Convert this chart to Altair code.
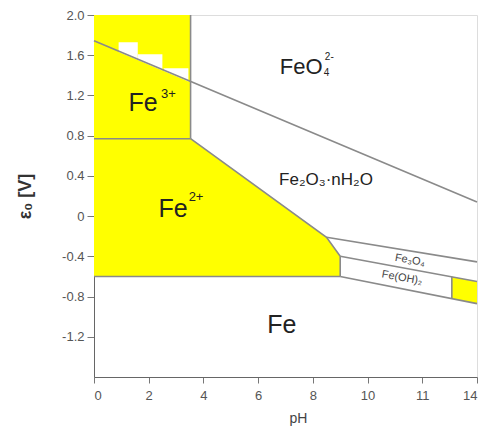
import altair as alt
import pandas as pd
import numpy as np

# ---------------- data ----------------
ph_ticks = [0, 2, 4, 6, 8, 10, 12, 14]
ph_tick_labels = ["0", "2", "4", "6", "8", "10", "11", "14"]
v_ticks = [-1.2, -0.8, -0.4, 0, 0.4, 0.8, 1.2, 1.6, 2.0]
v_tick_labels = ["-1.2", "-0.8", "-0.4", "0", "0.4", "0.8", "1.2", "1.6", "2.0"]

# boundary lines (segment id, pH, potential)
seg_ids = [1, 1, 2, 2, 3, 3, 4, 4, 4, 5, 5, 6, 6, 7, 7, 8, 8, 9, 9, 10, 10]
seg_ph = [0, 14, 3.53, 3.53, 0, 3.53, 3.53, 8.5, 9.0, 8.5, 14, 9.0, 14, 9.0, 9.0, 0, 9.0, 9.0, 14, 13.08, 13.08]
seg_v = [1.745, 0.14, 0.77, 2.0, 0.77, 0.77, 0.77, -0.21, -0.40, -0.21, -0.455, -0.40, -0.65, -0.40, -0.60,
         -0.60, -0.60, -0.60, -0.87, -0.604, -0.82]

# Fe3+ field
fe3_ph = [0, 3.53]
fe3_v = [0.77, 2.0]
# Fe2+ field
fe2_ph = [0, 3.53, 8.5, 9.0]
fe2_top = [0.77, 0.77, -0.21, -0.40]
fe2_bottom = [-0.60, -0.60, -0.60, -0.60]
# small yellow field at high pH
hfe_ph = [13.08, 14]
hfe_top = [-0.604, -0.65]
hfe_bottom = [-0.82, -0.87]

# white patches above the FeO4 line inside Fe3+ field
patch_id = [1, 1, 2, 2, 3, 3]
patch_ph = [0.9, 1.6, 1.6, 2.5, 2.55, 3.45]
patch_top = [1.73, 1.73, 1.61, 1.61, 1.47, 1.47]

# labels
big_text = ["Fe", "Fe", "Fe"]
big_ph = [1.79, 2.89, 6.87]
big_v = [1.125, 0.07, -1.08]
sup_text = ["3+", "2+"]
sup_ph = [2.72, 3.73]
sup_v = [1.21, 0.19]

# ---------------- frames ----------------
seg = pd.DataFrame({"seg": seg_ids, "ph": seg_ph, "v": seg_v})
seg["o"] = range(len(seg))

line_ph = [seg_ph[0], seg_ph[1]]
line_v = [seg_v[0], seg_v[1]]
patches = pd.DataFrame({"id": patch_id, "ph": patch_ph, "top": patch_top})
patches["bot"] = np.interp(patches["ph"], line_ph, line_v) - 0.01

fe3 = pd.DataFrame({"x": [fe3_ph[0]], "x2": [fe3_ph[1]], "y": [fe3_v[0]], "y2": [fe3_v[1]]})
fe2 = pd.DataFrame({"ph": fe2_ph, "top": fe2_top, "bot": fe2_bottom})
hfe = pd.DataFrame({"ph": hfe_ph, "top": hfe_top, "bot": hfe_bottom})

YELLOW = "#ffff00"
GRAY = "#8a8a8a"
TXT = "#222222"
FONT = "Liberation Sans"


def ternary(vals, labels):
    expr = "''"
    for v, l in zip(vals, labels):
        expr = f"abs(datum.value - ({v})) < 1e-6 ? '{l}' : " + expr
    return expr


xs = alt.Scale(domain=[0, 14], nice=False)
ys = alt.Scale(domain=[-1.6, 2.0], nice=False)

xenc = alt.X("ph:Q", scale=xs, axis=alt.Axis(
    values=ph_ticks, labelExpr=ternary(ph_ticks, ph_tick_labels), title="pH",
    grid=False, tickSize=6, labelPadding=6, labelFontSize=13, labelColor="#555",
    tickColor="#777", domainColor="#666", titleFontSize=14, titleFontWeight="normal",
    titleColor="#444", titleX=204, titleY=41, titleBaseline="middle", labelFont=FONT, titleFont=FONT))
yenc = alt.Y("v:Q", scale=ys, stack=None, axis=alt.Axis(
    values=v_ticks, labelExpr=ternary(v_ticks, v_tick_labels), title="ε₀ [V]",
    grid=False, tickSize=7, labelPadding=3, labelFontSize=13, labelColor="#555",
    tickColor="#777", domainColor="#666", titleFontSize=18, titleFontWeight="bold",
    titleColor="#333", titlePadding=27, labelFont=FONT, titleFont=FONT))

rect3 = alt.Chart(fe3).mark_rect(color=YELLOW).encode(
    x=alt.X("x:Q", scale=xs), x2="x2", y=alt.Y("y:Q", scale=ys), y2="y2")
area2 = alt.Chart(fe2).mark_area(color=YELLOW, opacity=1).encode(
    x=alt.X("ph:Q", scale=xs), y=alt.Y("top:Q", scale=ys, stack=None), y2="bot")
areah = alt.Chart(hfe).mark_area(color=YELLOW, opacity=1).encode(
    x=alt.X("ph:Q", scale=xs), y=alt.Y("top:Q", scale=ys, stack=None), y2="bot")
wpatch = alt.Chart(patches).mark_area(color="white", opacity=1).encode(
    x=alt.X("ph:Q", scale=xs), y=alt.Y("top:Q", scale=ys, stack=None), y2="bot", detail="id:N")

lines = alt.Chart(seg).mark_line(color=GRAY, strokeWidth=1.6).encode(
    x=xenc, y=yenc, detail="seg:N", order="o:Q")

big = alt.Chart(pd.DataFrame({"t": big_text, "ph": big_ph, "v": big_v})).mark_text(
    fontSize=25, color=TXT, font=FONT).encode(x=alt.X("ph:Q", scale=xs), y=alt.Y("v:Q", scale=ys), text="t:N")
sup = alt.Chart(pd.DataFrame({"t": sup_text, "ph": sup_ph, "v": sup_v})).mark_text(
    fontSize=13, color=TXT, font=FONT).encode(x=alt.X("ph:Q", scale=xs), y=alt.Y("v:Q", scale=ys), text="t:N")

feo = alt.Chart(pd.DataFrame({"t": ["FeO"], "ph": [7.57], "v": [1.483]})).mark_text(
    fontSize=22, color=TXT, font=FONT).encode(x=alt.X("ph:Q", scale=xs), y=alt.Y("v:Q", scale=ys), text="t:N")
feo_sub = alt.Chart(pd.DataFrame({"t": ["4", "2-"], "ph": [8.5, 8.6], "v": [1.42, 1.58]})).mark_text(
    fontSize=10, color=TXT, font=FONT).encode(x=alt.X("ph:Q", scale=xs), y=alt.Y("v:Q", scale=ys), text="t:N")

oxide = alt.Chart(pd.DataFrame({"t": ["Fe₂O₃·nH₂O"], "ph": [8.48], "v": [0.36]})).mark_text(
    fontSize=17, color=TXT, font=FONT).encode(x=alt.X("ph:Q", scale=xs), y=alt.Y("v:Q", scale=ys), text="t:N")

small = alt.Chart(pd.DataFrame({"t": ["Fe₃O₄", "Fe(OH)₂"], "ph": [11.55, 11.26], "v": [-0.44, -0.615]})).mark_text(
    fontSize=11, color="#444", font=FONT, angle=10).encode(
    x=alt.X("ph:Q", scale=xs), y=alt.Y("v:Q", scale=ys), text="t:N")

chart = alt.layer(rect3, area2, areah, wpatch, lines, big, sup, feo, feo_sub, oxide, small).properties(
    width=383, height=362,
    autosize=alt.AutoSizeParams(type="none"),
    padding={"left": 86, "top": 7, "right": 1, "bottom": 50},
).configure_view(stroke="#999", strokeWidth=1.5).configure(background="white")

chart.save("out.html", embed_options={"renderer": "svg", "actions": False})
